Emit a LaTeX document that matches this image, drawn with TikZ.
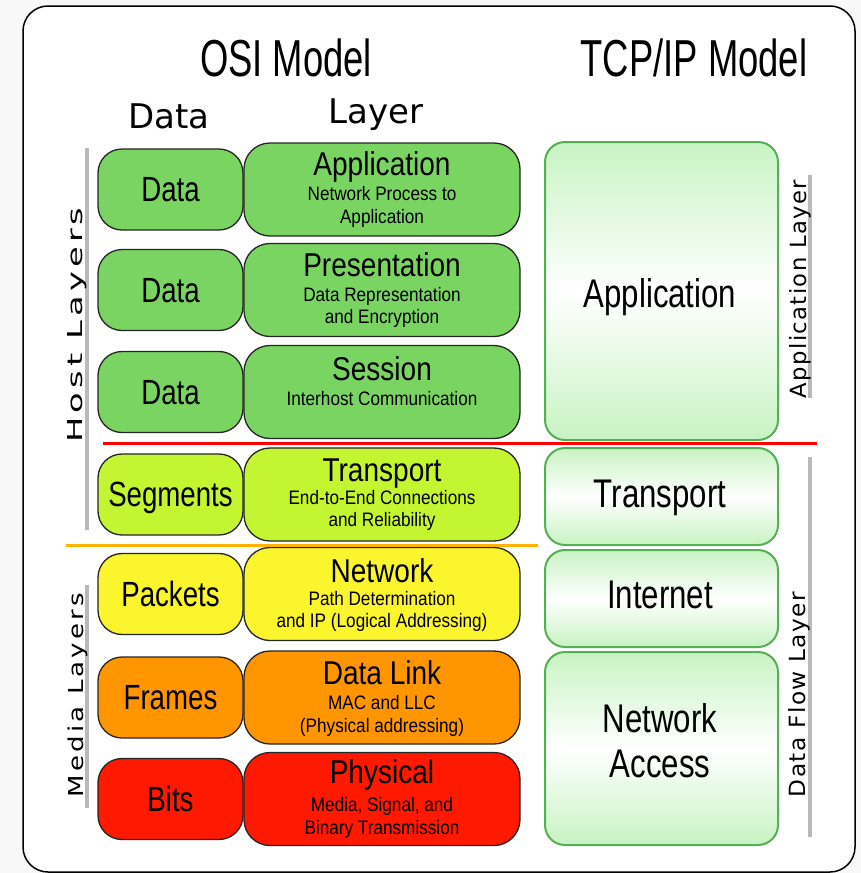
\documentclass[tikz,border=0pt]{standalone}
\usepackage{fontspec}
\usepackage{graphicx}
% condensed sans faces for the box texts
\newfontfamily\fTitle[FakeStretch=0.70]{Liberation Sans}
\newfontfamily\fLayer[FakeStretch=0.85]{Liberation Sans}
\newfontfamily\fSub[FakeStretch=0.88]{Liberation Sans}
\newfontfamily\fUnit[FakeStretch=0.79]{Liberation Sans}
\newfontfamily\fTcp[FakeStretch=0.78]{Liberation Sans}
% wide faces for the column heads and the side captions
\newfontfamily\fHead{DejaVu Sans}
\newfontfamily\fSideL[LetterSpace=12]{DejaVu Sans}
\newfontfamily\fSideR[LetterSpace=6]{DejaVu Sans}

\definecolor{osigreen}{RGB}{122,212,98}
\definecolor{osilime}{RGB}{195,245,48}
\definecolor{osiyellow}{RGB}{250,245,45}
\definecolor{osiorange}{RGB}{255,150,0}
\definecolor{osired}{RGB}{255,25,0}
\definecolor{tcpedge}{RGB}{85,175,85}
\definecolor{tcpfill}{RGB}{200,243,195}
\definecolor{sidebar}{RGB}{185,185,185}
\definecolor{hostline}{RGB}{255,0,0}
\definecolor{medialine}{RGB}{255,178,0}
\definecolor{pagebg}{RGB}{248,248,248}

\tikzset{
  unitbox/.style={draw=black!85, line width=1.3pt, rounded corners=24pt,
    minimum width=145pt, minimum height=81pt, inner sep=0pt},
  layerbox/.style={draw=black!85, line width=1.3pt, rounded corners=26pt,
    minimum width=276pt, minimum height=93pt, inner sep=0pt},
  tcpbox/.style={draw=tcpedge, line width=2pt, rounded corners=20pt,
    minimum width=233pt, inner sep=0pt,
    top color=tcpfill, bottom color=tcpfill, middle color=white},
  modeltitle/.style={font={\fTitle\fontsize{52}{56}\selectfont}, anchor=base, inner sep=0pt},
  colhead/.style={font={\fHead\fontsize{34}{38}\selectfont}, anchor=base, inner sep=0pt},
  layername/.style={font={\fLayer\fontsize{33}{36}\selectfont}, anchor=base, inner sep=0pt},
  layerdesc/.style={font={\fSub\fontsize{19.5}{22}\selectfont}, anchor=base, inner sep=0pt},
  unitname/.style={font={\fUnit\fontsize{35}{38}\selectfont}, anchor=base, inner sep=0pt},
  tcpname/.style={font={\fTcp\fontsize{40}{44}\selectfont}, anchor=base, inner sep=0pt},
  sidecap/.style={rotate=90, anchor=base, inner sep=0pt},
  sidebarline/.style={draw=sidebar, line width=4pt},
}

\begin{document}
\begin{tikzpicture}[x=1pt, y=-1pt]
\useasboundingbox (0,0) rectangle (861,873);
\fill[pagebg] (0,0) rectangle (861,873);
\draw[fill=white, line width=1.5pt, rounded corners=25pt] (23,6) rectangle (855,872);

% headings
\node[modeltitle] (osiT) at (286,76) {OSI Model};
\node[modeltitle] (tcpT) at (694,76) {TCP/IP Model};
\node[colhead] (dataH) at (169,128) {Data};
\node[colhead] (layerH) at (376,123) {Layer};

% OSI data units
\node[unitbox, fill=osigreen]  (u1) at (170.5,189.5) {};
\node[unitbox, fill=osigreen]  (u2) at (170.5,290) {};
\node[unitbox, fill=osigreen]  (u3) at (170.5,392) {};
\node[unitbox, fill=osilime]   (u4) at (170.5,494.5) {};
\node[unitbox, fill=osiyellow] (u5) at (170.5,594) {};
\node[unitbox, fill=osiorange] (u6) at (170.5,697.5) {};
\node[unitbox, fill=osired]    (u7) at (170.5,799) {};
\node[unitname] (u1t) at ([yshift=-12pt]u1.center) {Data};
\node[unitname] (u2t) at ([yshift=-12pt]u2.center) {Data};
\node[unitname] (u3t) at ([yshift=-12pt]u3.center) {Data};
\node[unitname] (u4t) at ([yshift=-12pt]u4.center) {Segments};
\node[unitname] (u5t) at ([yshift=-12pt]u5.center) {Packets};
\node[unitname] (u6t) at ([yshift=-12pt]u6.center) {Frames};
\node[unitname] (u7t) at ([yshift=-12pt]u7.center) {Bits};

% OSI layers
\node[layerbox, fill=osigreen]  (l7) at (382,189.5) {};
\node[layerbox, fill=osigreen]  (l6) at (382,290) {};
\node[layerbox, fill=osigreen]  (l5) at (382,392) {};
\node[layerbox, fill=osilime]   (l4) at (382,494.5) {};
\node[layerbox, fill=osiyellow] (l3) at (382,594) {};
\node[layerbox, fill=osiorange] (l2) at (382,697.5) {};
\node[layerbox, fill=osired]    (l1) at (382,799) {};

\node[layername] (l7t) at ([yshift=14pt]l7.center) {Application};
\node[layerdesc] (l7a) at ([yshift=-11pt]l7.center) {Network Process to};
\node[layerdesc] (l7b) at ([yshift=-33.5pt]l7.center) {Application};
\node[layername] (l6t) at ([yshift=14pt]l6.center) {Presentation};
\node[layerdesc] (l6a) at ([yshift=-11pt]l6.center) {Data Representation};
\node[layerdesc] (l6b) at ([yshift=-33.5pt]l6.center) {and Encryption};
\node[layername] (l5t) at ([yshift=12pt]l5.center) {Session};
\node[layerdesc] (l5a) at ([yshift=-13pt]l5.center) {Interhost Communication};
\node[layername] (l4t) at ([yshift=13pt]l4.center) {Transport};
\node[layerdesc] (l4a) at ([yshift=-9.5pt]l4.center) {End-to-End Connections};
\node[layerdesc] (l4b) at ([yshift=-31.5pt]l4.center) {and Reliability};
\node[layername] (l3t) at ([yshift=12pt]l3.center) {Network};
\node[layerdesc] (l3a) at ([yshift=-11pt]l3.center) {Path Determination};
\node[layerdesc] (l3b) at ([yshift=-33pt]l3.center) {and IP (Logical Addressing)};
\node[layername] (l2t) at ([yshift=13.5pt]l2.center) {Data Link};
\node[layerdesc] (l2a) at ([yshift=-12pt]l2.center) {MAC and LLC};
\node[layerdesc] (l2b) at ([yshift=-35pt]l2.center) {(Physical addressing)};
\node[layername] (l1t) at ([yshift=16pt]l1.center) {Physical};
\node[layerdesc] (l1a) at ([yshift=-12pt]l1.center) {Media, Signal, and};
\node[layerdesc] (l1b) at ([yshift=-35pt]l1.center) {Binary Transmission};

% TCP/IP layers
\node[tcpbox, minimum height=298pt] (tApp) at (661.5,291) {};
\node[tcpbox, minimum height=97pt]  (tTra) at (661.5,496.5) {};
\node[tcpbox, minimum height=97pt]  (tInt) at (661.5,598.5) {};
\node[tcpbox, minimum height=193pt] (tNet) at (661.5,748.5) {};
\node[tcpname] (tAppT) at (660,307) {Application};
\node[tcpname] (tTraT) at (660,507) {Transport};
\node[tcpname] (tIntT) at (660,608) {Internet};
\node[tcpname] (tNetA) at (660,732) {Network};
\node[tcpname] (tNetB) at (660,777) {Access};

% boundaries between layer groups
\coordinate (hostL) at (103,443);
\coordinate (hostR) at (817,443);
\coordinate (mediaL) at (66,545);
\coordinate (mediaR) at (538,545);
\draw[hostline, line width=3pt] (hostL) -- (hostR);
\draw[medialine, line width=3pt] (mediaL) -- (mediaR);

% side bars and captions
\coordinate (hbT) at (87,148);  \coordinate (hbB) at (87,530);
\coordinate (mbT) at (87,585);  \coordinate (mbB) at (87,808);
\coordinate (abT) at (810,175); \coordinate (abB) at (810,398);
\coordinate (dbT) at (810,457); \coordinate (dbB) at (810,837);
\draw[sidebarline] (hbT) -- (hbB);
\draw[sidebarline] (mbT) -- (mbB);
\draw[sidebarline] (abT) -- (abB);
\draw[sidebarline] (dbT) -- (dbB);

\node[sidecap] (hostC) at (82,325) {\resizebox{235pt}{15pt}{\fSideL Host Layers}};
\node[sidecap] (mediaC) at (83,695) {\resizebox{204pt}{15.6pt}{\fSideL Media Layers}};
\node[sidecap] (appC) at (806,289) {\resizebox{218pt}{17pt}{\fSideR Application Layer}};
\node[sidecap] (flowC) at (805,694.5) {\resizebox{205pt}{17pt}{\fSideR Data Flow Layer}};
\end{tikzpicture}
\end{document}
